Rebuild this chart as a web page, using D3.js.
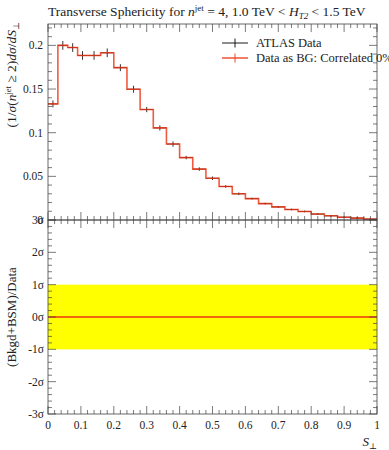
<!DOCTYPE html>
<html>
<head>
<meta charset="utf-8">
<script src="https://cdn.jsdelivr.net/npm/d3@7"></script>
<style>
  body { margin: 0; background: #fff; }
  svg text { font-family: "Liberation Serif", "DejaVu Serif", serif; fill: #222; }
</style>
</head>
<body>
<div id="chart"></div>
<script>
// bin edges of S_perp
var binEdges = [0, 0.03, 0.06, 0.09, 0.12, 0.16, 0.20, 0.24, 0.28, 0.32, 0.36, 0.40,
  0.44, 0.48, 0.52, 0.56, 0.60, 0.64, 0.68, 0.72, 0.76, 0.80, 0.84, 0.88, 0.92, 0.96, 1.0];
// normalised cross-section per bin
var dataValues = [0.133, 0.200, 0.1975, 0.1885, 0.1885, 0.1915, 0.1745, 0.1498, 0.1265, 0.1055,
  0.0870, 0.0715, 0.0583, 0.0478, 0.0384, 0.0300, 0.0245, 0.0188, 0.0150, 0.0120,
  0.0098, 0.0068, 0.0048, 0.0032, 0.0022, 0.0010];
var dataErrors = [0.004, 0.005, 0.005, 0.005, 0.005, 0.005, 0.004, 0.004, 0.003, 0.003,
  0.003, 0.002, 0.002, 0.002, 0.0015, 0.0015, 0.001, 0.001, 0.001, 0.001,
  0.001, 0.001, 0.001, 0.001, 0.001, 0.001];
var xTickLabels = ["0", "0.1", "0.2", "0.3", "0.4", "0.5", "0.6", "0.7", "0.8", "0.9", "1"];
var yTickValues = [0.05, 0.1, 0.15, 0.2];
var sigmaTicks = [-3, -2, -1, 0, 1, 2, 3];

var svgWidth = 389, svgHeight = 450;
var left = 48, right = 377;
var topY = 24, midY = 220, botY = 414;

var svg = d3.select("#chart").append("svg")
  .attr("width", svgWidth)
  .attr("height", svgHeight);

var x = d3.scaleLinear().domain([0, 1]).range([left, right]);
var y = d3.scaleLinear().domain([0, 0.2245]).range([midY, topY]);
var yr = d3.scaleLinear().domain([-3, 3]).range([botY, midY]);

var tickColor = "#444";

// draw ticks on one edge: positions, direction (+1/-1), length
function ticks(vals, scale, orient, pos, len) {
  vals.forEach(function(v) {
    var p = scale(v);
    var l = svg.append("line").attr("stroke", tickColor).attr("stroke-width", 0.7);
    if (orient === "h") l.attr("x1", p).attr("x2", p).attr("y1", pos).attr("y2", pos + len);
    else l.attr("y1", p).attr("y2", p).attr("x1", pos).attr("x2", pos + len);
  });
}
var xMajor = d3.range(0, 11).map(d => d / 10);
var xMinor = d3.range(0, 51).map(d => d / 50).filter(d => Math.round(d * 50) % 5 !== 0);
var yMajor = [0, 0.05, 0.1, 0.15, 0.2];
var yMinor = d3.range(0, 23).map(d => d / 100).filter(d => Math.round(d * 100) % 5 !== 0);
var rMajor = sigmaTicks;
var rMinor = d3.range(-15, 16).map(d => d / 5).filter(d => Math.round(d * 5) % 5 !== 0);

// ---- ratio band ----
svg.append("rect")
  .attr("x", x(0)).attr("width", x(1) - x(0))
  .attr("y", yr(1)).attr("height", yr(-1) - yr(1))
  .attr("fill", "#ffff00");
svg.append("line")
  .attr("x1", x(0)).attr("x2", x(1))
  .attr("y1", yr(0)).attr("y2", yr(0))
  .attr("stroke", "#ee3311").attr("stroke-width", 1.3);

// ---- top panel: MC step line ----
var stepPts = dataValues.map((v, i) => [binEdges[i], v]);
stepPts.push([1.0, dataValues[dataValues.length - 1]]);
var stepLine = d3.line()
  .x(d => x(d[0])).y(d => y(d[1]))
  .curve(d3.curveStepAfter);

// data crosses
var centers = dataValues.map((v, i) => (binEdges[i] + binEdges[i + 1]) / 2);
var dataG = svg.append("g");
dataValues.forEach(function(v, i) {
  dataG.append("line")
    .attr("x1", x(binEdges[i])).attr("x2", x(binEdges[i + 1]))
    .attr("y1", y(v)).attr("y2", y(v))
    .attr("stroke", "#000").attr("stroke-width", 0.8);
  dataG.append("line")
    .attr("x1", x(centers[i])).attr("x2", x(centers[i]))
    .attr("y1", y(v - dataErrors[i])).attr("y2", y(v + dataErrors[i]))
    .attr("stroke", "#000").attr("stroke-width", 0.8);
});

svg.append("path")
  .datum(stepPts)
  .attr("d", stepLine)
  .attr("fill", "none")
  .attr("stroke", "#ee3311")
  .attr("stroke-opacity", 0.8)
  .attr("stroke-width", 1.6);

// ---- frames ----
[[topY, midY], [midY, botY]].forEach(function(r) {
  svg.append("rect")
    .attr("x", left).attr("y", r[0])
    .attr("width", right - left).attr("height", r[1] - r[0])
    .attr("fill", "none").attr("stroke", tickColor).attr("stroke-width", 0.8);
});

// top panel ticks
ticks(xMajor, x, "h", topY, 8); ticks(xMinor, x, "h", topY, 4);
ticks(xMajor, x, "h", midY, -8); ticks(xMinor, x, "h", midY, -4);
ticks(yMajor, y, "v", left, 8); ticks(yMinor, y, "v", left, 4);
ticks(yMajor, y, "v", right, -8); ticks(yMinor, y, "v", right, -4);
// ratio panel ticks
ticks(xMajor, x, "h", midY, 8); ticks(xMinor, x, "h", midY, 4);
ticks(xMajor, x, "h", botY, -8); ticks(xMinor, x, "h", botY, -4);
ticks(rMajor, yr, "v", left, 8); ticks(rMinor, yr, "v", left, 4);
ticks(rMajor, yr, "v", right, -8); ticks(rMinor, yr, "v", right, -4);

// ---- tick labels ----
svg.selectAll(".ylab").data(yTickValues.concat([0])).enter().append("text")
  .attr("x", 43).attr("y", d => y(d) + 4)
  .attr("text-anchor", "end").attr("font-size", 11.5)
  .text(d => d === 0 ? "0" : String(d));

svg.selectAll(".rlab").data(sigmaTicks).enter().append("text")
  .attr("x", 44).attr("y", d => yr(d) + 4)
  .attr("text-anchor", "end").attr("font-size", 11.5)
  .text(d => d + "\u03c3");

svg.selectAll(".xlab").data(xTickLabels).enter().append("text")
  .attr("x", (d, i) => x(i / 10)).attr("y", 429)
  .attr("text-anchor", "middle").attr("font-size", 11.5)
  .text(d => d);

// ---- axis titles ----
var xt = svg.append("text").attr("x", right).attr("y", 446)
  .attr("text-anchor", "end").attr("font-size", 13);
xt.append("tspan").attr("font-style", "italic").text("S");
xt.append("tspan").attr("font-size", 8.5).attr("dy", 3).text("\u22a5");

var yt = svg.append("text")
  .attr("transform", "translate(16," + (topY - 2) + ") rotate(-90)")
  .attr("text-anchor", "end").attr("font-size", 13.5);
yt.append("tspan").text("(1/");
yt.append("tspan").attr("font-style", "italic").text("\u03c3");
yt.append("tspan").text("(");
yt.append("tspan").attr("font-style", "italic").text("n");
yt.append("tspan").attr("font-size", 8.5).attr("dy", -5).text("jet");
yt.append("tspan").attr("dy", 5).text(" \u2265 2)");
yt.append("tspan").attr("font-style", "italic").text("d\u03c3");
yt.append("tspan").text("/");
yt.append("tspan").attr("font-style", "italic").text("dS");
yt.append("tspan").attr("font-size", 8.5).attr("dy", 3).text("\u22a5");

svg.append("text")
  .attr("transform", "translate(16," + yr(0) + ") rotate(-90)")
  .attr("text-anchor", "middle").attr("font-size", 13)
  .text("(Bkgd+BSM)/Data");

// ---- title ----
var tt = svg.append("text").attr("x", left).attr("y", 16).attr("font-size", 13.5);
tt.append("tspan").text("Transverse Sphericity for ");
tt.append("tspan").attr("font-style", "italic").text("n");
tt.append("tspan").attr("font-size", 9).attr("dy", -5).text("jet");
tt.append("tspan").attr("dy", 5).text(" = 4, 1.0 TeV < ");
tt.append("tspan").attr("font-style", "italic").text("H");
tt.append("tspan").attr("font-style", "italic").attr("font-size", 9).attr("dy", 3).text("T2");
tt.append("tspan").attr("dy", -3).text(" < 1.5 TeV");

// ---- legend ----
var legend = [
  {label: "ATLAS Data", color: "#000", w: 0.9, yy: 43},
  {label: "Data as BG: Correlated 0%", color: "#ee3311", w: 1.6, yy: 58}
];
legend.forEach(function(d) {
  svg.append("line").attr("x1", 222).attr("x2", 248).attr("y1", d.yy).attr("y2", d.yy)
    .attr("stroke", d.color).attr("stroke-width", d.w).attr("stroke-opacity", d.color === "#000" ? 1 : 0.8);
  svg.append("line").attr("x1", 235).attr("x2", 235).attr("y1", d.yy - 4.5).attr("y2", d.yy + 4.5)
    .attr("stroke", d.color).attr("stroke-width", 0.9);
  svg.append("text").attr("x", 256).attr("y", d.yy + 4).attr("font-size", 12.5).text(d.label);
});
</script>
</body>
</html>
